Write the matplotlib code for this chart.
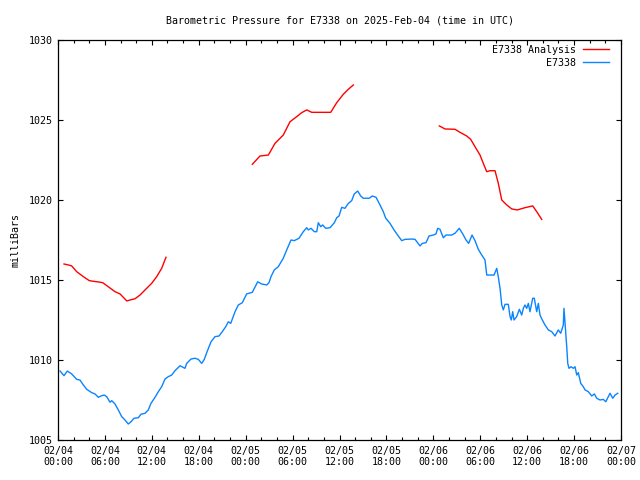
import pandas as pd
import matplotlib
matplotlib.use("Agg")
import matplotlib.pyplot as plt
import matplotlib.dates as mdates

# Station observations (hours after 2025-02-04 00:00 UTC, millibars)
obs_hours = [0.26, 0.77, 1.19, 1.75, 2.39, 2.81, 3.24, 3.67, 4.31, 4.73, 5.15, 5.59, 5.92, 6.23,
             6.65, 6.87, 7.29, 7.71, 8.15, 8.57, 8.99, 9.34, 9.72, 10.27, 10.61, 11.13, 11.55,
             11.89, 12.41, 12.83, 13.26, 13.68, 14.11, 14.54, 14.96, 15.60, 16.24, 16.46, 17.01,
             17.52, 17.94, 18.38, 18.71, 19.02, 19.57, 20.08, 20.59, 21.01, 21.45, 21.78, 22.09,
             22.64, 23.06, 23.57, 24.13, 24.85, 25.54, 26.05, 26.69, 26.98, 27.24, 27.66, 28.17,
             28.81, 29.25, 29.80, 30.22, 30.53, 30.82, 31.37, 31.81, 32.01, 32.36, 32.78, 33.09,
             33.29, 33.60, 33.85, 34.24, 34.79, 35.34, 35.64, 35.94, 36.28, 36.70, 37.13, 37.56,
             37.89, 38.33, 38.71, 39.04, 39.81, 40.19, 40.67, 41.18, 41.60, 41.91, 42.46, 42.97,
             43.52, 43.96, 44.38, 45.23, 45.66, 46.30, 46.59, 47.06, 47.45, 48.00, 48.34, 48.56,
             48.85, 49.28, 49.62, 50.35, 50.77, 51.32, 51.76, 52.18, 52.52, 52.95, 53.33, 53.75,
             54.19, 54.61, 54.83, 55.76, 56.11, 56.31, 56.53, 56.75, 56.95, 57.17, 57.59, 57.81,
             57.97, 58.15, 58.32, 58.66, 59.00, 59.30, 59.51, 59.72, 59.94, 60.15, 60.36, 60.71,
             60.91, 61.22, 61.43, 61.64, 61.94, 62.28, 62.71, 63.14, 63.56, 63.98, 64.29, 64.62,
             64.71, 64.88, 65.06, 65.19, 65.35, 65.61, 65.90, 66.12, 66.34, 66.54, 66.85, 67.18,
             67.40, 67.82, 68.26, 68.59, 68.90, 69.32, 69.74, 70.05, 70.38, 70.60, 70.94, 71.24,
             71.58]
obs_mb = [1009.31, 1009.02, 1009.31, 1009.13, 1008.79, 1008.75, 1008.44, 1008.17, 1007.96, 1007.88,
          1007.67, 1007.77, 1007.81, 1007.71, 1007.36, 1007.46, 1007.25, 1006.88, 1006.46, 1006.25,
          1006.00, 1006.14, 1006.36, 1006.39, 1006.61, 1006.67, 1006.88, 1007.29, 1007.67, 1008.02,
          1008.33, 1008.81, 1008.96, 1009.06, 1009.33, 1009.64, 1009.48, 1009.79, 1010.06, 1010.11,
          1010.04, 1009.79, 1010.04, 1010.46, 1011.14, 1011.46, 1011.50, 1011.77, 1012.08, 1012.39,
          1012.29, 1013.02, 1013.44, 1013.58, 1014.13, 1014.23, 1014.89, 1014.75, 1014.69, 1014.83,
          1015.21, 1015.63, 1015.83, 1016.36, 1016.88, 1017.50, 1017.46, 1017.54, 1017.61, 1018.02,
          1018.27, 1018.13, 1018.23, 1018.02, 1018.02, 1018.58, 1018.33, 1018.44, 1018.23, 1018.27,
          1018.58, 1018.89, 1019.00, 1019.54, 1019.48, 1019.79, 1019.96, 1020.38, 1020.56, 1020.25,
          1020.11, 1020.11, 1020.25, 1020.17, 1019.69, 1019.27, 1018.86, 1018.54, 1018.13, 1017.75,
          1017.46, 1017.54, 1017.56, 1017.54, 1017.13, 1017.29, 1017.33, 1017.75, 1017.81, 1017.88,
          1018.23, 1018.17, 1017.64, 1017.81, 1017.81, 1017.92, 1018.23, 1017.88, 1017.50, 1017.29,
          1017.81, 1017.46, 1016.92, 1016.56, 1016.25, 1015.31, 1015.31, 1015.73, 1015.19, 1014.48,
          1013.44, 1013.13, 1013.48, 1013.48, 1012.71, 1012.50, 1013.02, 1012.50, 1012.71, 1013.17,
          1012.81, 1013.23, 1013.44, 1013.23, 1013.54, 1013.02, 1013.86, 1013.86, 1013.02, 1013.54,
          1012.81, 1012.50, 1012.19, 1011.88, 1011.77, 1011.50, 1011.88, 1011.67, 1012.19, 1013.23,
          1012.08, 1010.83, 1009.79, 1009.48, 1009.58, 1009.48, 1009.58, 1009.06, 1009.21, 1008.54,
          1008.33, 1008.13, 1008.02, 1007.75, 1007.88, 1007.61, 1007.50, 1007.54, 1007.39, 1007.71,
          1007.92, 1007.61, 1007.81, 1007.92]

# Analysis, three separate segments
ana_hours_1 = [0.77, 1.32, 1.75, 2.39, 3.24, 4.00, 4.51, 5.15, 5.72, 6.43, 7.29, 7.93, 8.35, 8.79,
               9.21, 9.85, 10.49, 11.34, 11.98, 12.62, 13.26, 13.81]
ana_mb_1 = [1016.00, 1015.94, 1015.88, 1015.52, 1015.21, 1014.96, 1014.92, 1014.88, 1014.83,
            1014.58, 1014.27, 1014.13, 1013.92, 1013.69, 1013.75, 1013.83, 1014.06, 1014.48,
            1014.79, 1015.21, 1015.73, 1016.42]
ana_hours_2 = [24.85, 25.83, 26.90, 27.75, 28.81, 29.67, 30.53, 31.17, 31.81, 32.45, 33.72, 34.88,
               35.64, 36.49, 37.13, 37.77]
ana_mb_2 = [1022.23, 1022.75, 1022.81, 1023.54, 1024.06, 1024.89, 1025.21, 1025.46, 1025.63,
            1025.48, 1025.48, 1025.48, 1026.08, 1026.61, 1026.92, 1027.19]
ana_hours_3 = [48.77, 49.49, 50.77, 51.41, 52.27, 52.78, 53.33, 53.97, 54.39, 54.83, 55.25, 55.89,
               56.31, 56.75, 57.39, 58.03, 58.74, 59.72, 60.71, 61.22, 61.86]
ana_mb_3 = [1024.63, 1024.44, 1024.42, 1024.23, 1024.00, 1023.79, 1023.33, 1022.81, 1022.29,
            1021.77, 1021.83, 1021.83, 1021.04, 1020.00, 1019.69, 1019.44, 1019.38, 1019.52,
            1019.63, 1019.27, 1018.79]

start = pd.Timestamp("2025-02-04 00:00")


def to_time(hours):
    return start + pd.to_timedelta(hours, unit="h")


plt.rcParams["font.family"] = "DejaVu Sans Mono"
plt.rcParams["font.size"] = 7.2

fig = plt.figure(figsize=(6.4, 4.8), dpi=100)
ax = fig.add_axes([58 / 640, 40 / 480, 563 / 640, 400 / 480])

red = "#ff0000"
blue = "#0a84ff"
ax.plot(to_time(ana_hours_1), ana_mb_1, color=red, lw=1.0, label="E7338 Analysis")
ax.plot(to_time(ana_hours_2), ana_mb_2, color=red, lw=1.0)
ax.plot(to_time(ana_hours_3), ana_mb_3, color=red, lw=1.0)
ax.plot(to_time(obs_hours), obs_mb, color=blue, lw=1.0, label="E7338")

ax.set_xlim(start, start + pd.Timedelta(hours=72))
ax.set_ylim(1005, 1030)
ax.set_yticks([1005, 1010, 1015, 1020, 1025, 1030])

ax.xaxis.set_major_locator(mdates.HourLocator(byhour=range(0, 24, 6)))
ax.xaxis.set_minor_locator(mdates.HourLocator(byhour=range(0, 24, 2)))
ax.xaxis.set_major_formatter(mdates.DateFormatter("%m/%d\n%H:%M"))

ax.tick_params(which="both", direction="in", top=True, right=True, width=0.8, color="black")
ax.tick_params(which="major", length=3.5, pad=4)
ax.tick_params(which="minor", length=2)
for sp in ax.spines.values():
    sp.set_linewidth(0.9)

ax.set_title("Barometric Pressure for E7338 on 2025-Feb-04 (time in UTC)", fontsize=7.2, pad=12)
ax.set_ylabel("milliBars", labelpad=6)

ax.legend(loc="upper right", bbox_to_anchor=(1 - 7 / 563, 1), frameon=False, markerfirst=False,
          handlelength=2.6, handletextpad=0.7, labelspacing=0.3, borderaxespad=0.2, borderpad=0.3)

fig.savefig("out.png", dpi=100)
